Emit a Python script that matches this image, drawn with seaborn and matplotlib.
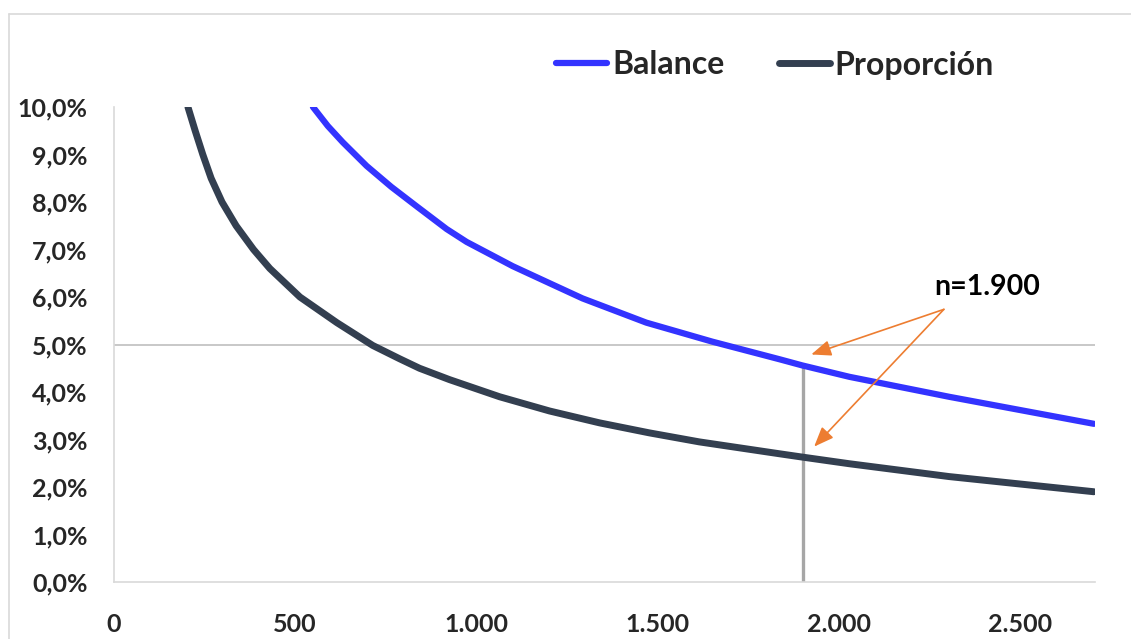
import matplotlib
matplotlib.use("Agg")
import matplotlib.pyplot as plt
import seaborn as sns
import pandas as pd
from matplotlib.ticker import FuncFormatter, FixedLocator
from matplotlib.lines import Line2D

# ---- data ----
balance_n = [549, 590, 631, 697, 765, 835, 918, 973, 1100, 1202, 1293, 1469, 1651, 1836,
             1899, 2029, 2304, 2704]
balance_e = [0.1000, 0.0960, 0.0926, 0.0876, 0.0832, 0.0791, 0.0743, 0.0716, 0.0665, 0.0629,
             0.0597, 0.0546, 0.0506, 0.0469, 0.0456, 0.0432, 0.0390, 0.0333]
prop_n = [204, 224, 245, 268, 298, 337, 385, 430, 513, 615, 714, 788, 843, 926, 1064, 1202,
          1340, 1477, 1615, 1836, 1899, 2029, 2304, 2704]
prop_e = [0.1000, 0.0950, 0.0900, 0.0850, 0.0800, 0.0750, 0.0700, 0.0660, 0.0600, 0.0546,
          0.0498, 0.0470, 0.0450, 0.0426, 0.0390, 0.0360, 0.0335, 0.0314, 0.0295, 0.0270,
          0.0263, 0.0249, 0.0222, 0.0190]
series_names = ["Balance", "Proporción"]
x_ticks = [0, 500, 1000, 1500, 2000, 2500]
y_ticks = [0.00, 0.01, 0.02, 0.03, 0.04, 0.05, 0.06, 0.07, 0.08, 0.09, 0.10]
n_mark = 1900
n_mark_balance = 0.0456
ref_level = 0.05
annot_text = "n=1.900"

df = pd.concat([
    pd.DataFrame({"n": balance_n, "e": balance_e, "serie": series_names[0]}),
    pd.DataFrame({"n": prop_n, "e": prop_e, "serie": series_names[1]}),
])

sns.set_theme(style="white")
plt.rcParams['font.family'] = ['Lato', 'DejaVu Sans']

fig = plt.figure(figsize=(11.31, 6.39), dpi=100)
ax = fig.add_axes([114/1131, 1-582/639, (1095-114)/1131, (582-107)/639])

colors = {"Balance": "#3333FF", "Proporción": "#333F50"}
widths = [4.5, 5.0]
ax.axhline(ref_level, color="#BFBFBF", lw=1.2, zorder=1)
ax.plot([n_mark, n_mark], [0, n_mark_balance], color="#A6A6A6", lw=2.4, zorder=1,
        solid_capstyle="butt")

sns.lineplot(data=df, x="n", y="e", hue="serie", palette=colors, ax=ax,
             legend=False, zorder=3, estimator=None, sort=True)
for line, lw in zip(ax.lines[-2:], widths):
    line.set_linewidth(lw)
    line.set_solid_capstyle("round")
    line.set_solid_joinstyle("round")

ax.set_xlim(0, 2707)
ax.set_ylim(0, 0.10)
ax.xaxis.set_major_locator(FixedLocator(x_ticks))
ax.yaxis.set_major_locator(FixedLocator(y_ticks))
ax.xaxis.set_major_formatter(FuncFormatter(lambda v, p: f"{int(v):,}".replace(",", ".")))
ax.yaxis.set_major_formatter(FuncFormatter(lambda v, p: f"{v*100:.1f}%".replace(".", ",")))
ax.tick_params(axis="both", length=0, labelsize=18)
ax.tick_params(axis="y", pad=19)
ax.tick_params(axis="x", pad=22)
for lab in ax.get_xticklabels() + ax.get_yticklabels():
    lab.set_fontweight("bold")
ax.set_xlabel("")
ax.set_ylabel("")
for s in ["top", "right"]:
    ax.spines[s].set_visible(False)
for s in ["left", "bottom"]:
    ax.spines[s].set_color("#D9D9D9")
    ax.spines[s].set_linewidth(1.2)

# annotation arrows
tail = (2290, 0.0574)
arrow_kw = dict(arrowstyle="-|>,head_length=1.0,head_width=0.4", color="#ED7D31", lw=1.2,
                shrinkA=0, shrinkB=0)
ax.annotate("", xy=(1924, 0.0479), xytext=tail, arrowprops=arrow_kw, zorder=5)
ax.annotate("", xy=(1932, 0.0285), xytext=tail, arrowprops=arrow_kw, zorder=5)
ax.text(2409, 0.0622, annot_text, ha="center", va="center", fontsize=20.5,
        fontweight="bold", color="black")

# legend
handles = [Line2D([0], [0], color=colors[s], lw=lw, solid_capstyle="round")
           for s, lw in zip(series_names, widths)]
leg = fig.legend(handles, series_names, loc="center", bbox_to_anchor=(775/1131, 1-65/639),
                 ncol=2, frameon=False, handlelength=1.6, handletextpad=0.15,
                 columnspacing=1.7, prop={"weight": "bold", "size": 23, "family": "Lato"})

# outer chart border (partially visible)
fig.add_artist(Line2D([9/1131, 9/1131], [0, 1-14/639], transform=fig.transFigure,
                      color="#D9D9D9", lw=1.2))
fig.add_artist(Line2D([9/1131, 1], [1-14/639, 1-14/639], transform=fig.transFigure,
                      color="#D9D9D9", lw=1.2))

fig.savefig("out.png", dpi=100, facecolor="white")
